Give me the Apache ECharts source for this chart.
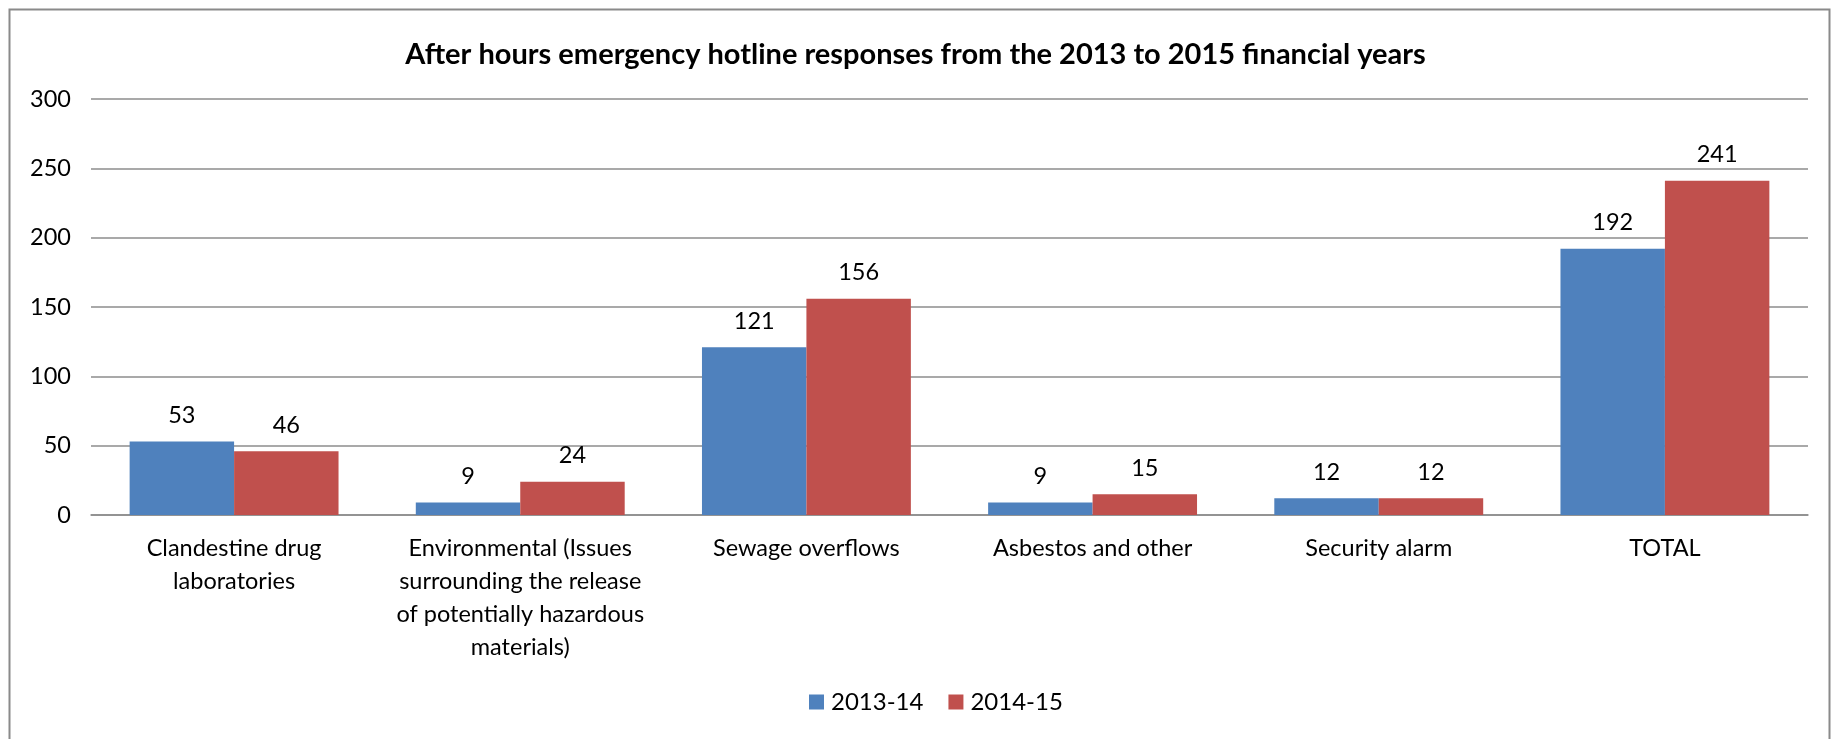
<!DOCTYPE html>
<html>
<head>
<meta charset="utf-8">
<script src="https://cdn.jsdelivr.net/npm/echarts@6/dist/echarts.min.js"></script>
<style>
html,body{margin:0;padding:0;background:#fff;}
#main{width:1831px;height:739px;}
</style>
</head>
<body>
<div id="main"></div>
<script>
const categories = [
  "Clandestine drug\nlaboratories",
  "Environmental (Issues\nsurrounding the release\nof potentially hazardous\nmaterials)",
  "Sewage overflows",
  "Asbestos and other",
  "Security alarm",
  "TOTAL"
];
const seriesNames = ["2013-14", "2014-15"];
const values2013 = [53, 9, 121, 9, 12, 192];
const values2014 = [46, 24, 156, 15, 12, 241];
const yTicks = { min: 0, max: 300, interval: 50 };
const titleText = "After hours emergency hotline responses from the 2013 to 2015 financial years";

const FONT = "Lato";
const chart = echarts.init(document.getElementById('main'));
const labelStyle = {
  show: true, position: 'top', distance: 14,
  color: '#000', fontFamily: FONT, fontSize: 23.5
};
chart.setOption({
  animation: false,
  backgroundColor: '#fff',
  title: {
    text: titleText, left: 'center', top: 35,
    textStyle: { fontFamily: FONT, fontWeight: 'bold', fontSize: 29, color: '#000' }
  },
  legend: {
    data: seriesNames, bottom: 20, left: 804,
    itemWidth: 15, itemHeight: 15, itemGap: 25,
    icon: 'rect',
    textStyle: { fontFamily: FONT, fontSize: 24, color: '#000', padding: [0, 0, 0, 2] }
  },
  grid: { left: 91, right: 23, top: 99, bottom: 224, containLabel: false },
  xAxis: {
    type: 'category', data: categories,
    axisLine: { lineStyle: { color: '#8c8c8c', width: 1.5 } },
    axisTick: { show: false },
    axisLabel: { fontFamily: FONT, fontSize: 23.5, color: '#000', margin: 17, lineHeight: 33, interval: 0 }
  },
  yAxis: {
    type: 'value', min: yTicks.min, max: yTicks.max, interval: yTicks.interval,
    axisLine: { show: false }, axisTick: { show: false },
    splitLine: { lineStyle: { color: '#8c8c8c', width: 1.5 } },
    axisLabel: { fontFamily: FONT, fontSize: 23.5, color: '#000', margin: 20 }
  },
  series: [
    { name: seriesNames[0], type: 'bar', data: values2013, barGap: '0%', barCategoryGap: '27%',
      itemStyle: { color: '#4F81BD' }, label: labelStyle },
    { name: seriesNames[1], type: 'bar', data: values2014, barGap: '0%', barCategoryGap: '27%',
      itemStyle: { color: '#C0504D' }, label: labelStyle }
  ],
  graphic: [{
    type: 'rect', left: 7, top: 7, z: -1,
    shape: { x: 0, y: 0, width: 1820, height: 745 },
    style: { fill: 'none', stroke: '#8a8a8a', lineWidth: 2 }
  }]
});
</script>
</body>
</html>
